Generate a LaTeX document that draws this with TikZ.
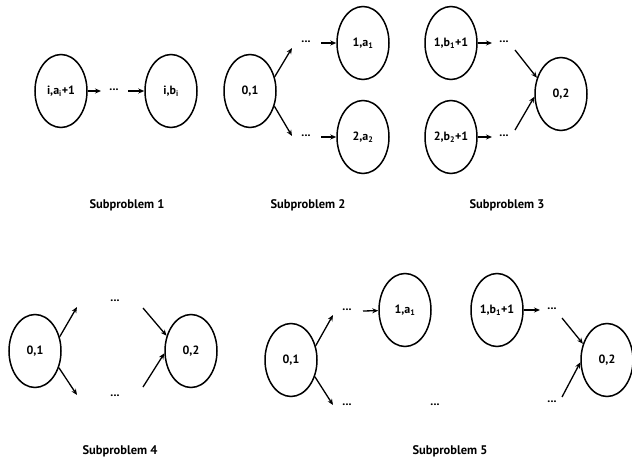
\documentclass[tikz,border=0pt]{standalone}
\usepackage{fontspec}
\setmainfont{PT Sans}
\usetikzlibrary{shapes.geometric,arrows.meta}
\tikzset{
  st/.style={draw, ellipse, line width=1.5pt, minimum width=52pt, minimum height=73pt, inner sep=0pt, font=\bfseries\fontsize{12}{14}\selectfont},
  arr/.style={line width=1.3pt, -{Stealth[length=6pt,width=5pt]}},
  dts/.style={inner sep=0pt, font=\bfseries\fontsize{12}{14}\selectfont},
  captxt/.style={font=\bfseries\fontsize{12.5}{14}\selectfont}
}
\newcommand{\dd}{\raisebox{0.3ex}{...}}
\begin{document}
\begin{tikzpicture}[x=1pt,y=-1pt]
\useasboundingbox (0,0) rectangle (632,465);
% Subproblem 1
\node[st] (A1) at (61,91) {i,a\textsubscript{i}+1};
\node[st] (B1) at (171,91) {i,b\textsubscript{i}};
\node[dts] (D1) at (114,91) {\dd};
\coordinate (p1) at (101,91);
\coordinate (q1) at (128,91);
\draw[arr] (A1) -- (p1);
\draw[arr] (q1) -- (B1);
\node[captxt] (S1) at (127,205) {Subproblem 1};
% Subproblem 2
\node[st] (C2) at (250,91) {0,1};
\node[st] (U2) at (363,43) {1,a\textsubscript{1}};
\node[st] (L2) at (363,137) {2,a\textsubscript{2}};
\node[dts] (D2u) at (306,43) {\dd};
\node[dts] (D2l) at (306,137) {\dd};
\coordinate (p2u) at (292,48);
\coordinate (p2l) at (292,136);
\coordinate (q2u) at (321,43);
\coordinate (q2l) at (321,137);
\draw[arr] (C2.30) -- (p2u);
\draw[arr] (C2.-32) -- (p2l);
\draw[arr] (q2u) -- (U2);
\draw[arr] (q2l) -- (L2);
\node[captxt] (S2) at (308,205) {Subproblem 2};
% Subproblem 3
\node[st] (T3) at (451,43) {1,b\textsubscript{1}+1};
\node[st] (B3) at (451,137) {2,b\textsubscript{2}+1};
\node[st] (E3) at (561,94) {0,2};
\node[dts] (D3u) at (504,43) {\dd};
\node[dts] (D3l) at (504,137) {\dd};
\coordinate (p3u) at (492,43);
\coordinate (p3l) at (492,137);
\coordinate (q3u) at (515,50);
\coordinate (q3l) at (515,130);
\draw[arr] (T3) -- (p3u);
\draw[arr] (B3) -- (p3l);
\draw[arr] (q3u) -- (E3.146);
\draw[arr] (q3l) -- (E3.186);
\node[captxt] (S3) at (507,205) {Subproblem 3};
% Subproblem 4
\node[st] (F4) at (35,351) {0,1};
\node[st] (G4) at (191,351) {0,2};
\node[dts] (D4u) at (115,302) {\dd};
\node[dts] (D4l) at (115,397) {\dd};
\coordinate (p4u) at (77,307);
\coordinate (p4l) at (77,395);
\coordinate (q4u) at (143,308);
\coordinate (q4l) at (143,387);
\draw[arr] (F4.30) -- (p4u);
\draw[arr] (F4.-35) -- (p4l);
\draw[arr] (q4u) -- (G4.148);
\draw[arr] (q4l) -- (G4.185);
\node[captxt] (S4) at (120,451) {Subproblem 4};
% Subproblem 5
\node[st] (H5) at (291,360) {0,1};
\node[st] (I5) at (405,310) {1,a\textsubscript{1}};
\node[st] (J5) at (497,310) {1,b\textsubscript{1}+1};
\node[st] (K5) at (607,360) {0,2};
\node[dts] (D5a) at (347,311) {\dd};
\node[dts] (D5b) at (347,406) {\dd};
\node[dts] (D5c) at (435,406) {\dd};
\node[dts] (D5d) at (552,310) {\dd};
\node[dts] (D5e) at (552,403) {\dd};
\coordinate (p5a) at (333,315);
\coordinate (p5b) at (333,405);
\coordinate (q5a) at (363,311);
\coordinate (p5d) at (540,310);
\coordinate (q5d) at (562,318);
\coordinate (q5e) at (562,397);
\draw[arr] (H5.30) -- (p5a);
\draw[arr] (H5.-35) -- (p5b);
\draw[arr] (q5a) -- (I5);
\draw[arr] (J5) -- (p5d);
\draw[arr] (q5d) -- (K5.146);
\draw[arr] (q5e) -- (K5.185);
\node[captxt] (S5) at (450,451) {Subproblem 5};
\end{tikzpicture}
\end{document}
